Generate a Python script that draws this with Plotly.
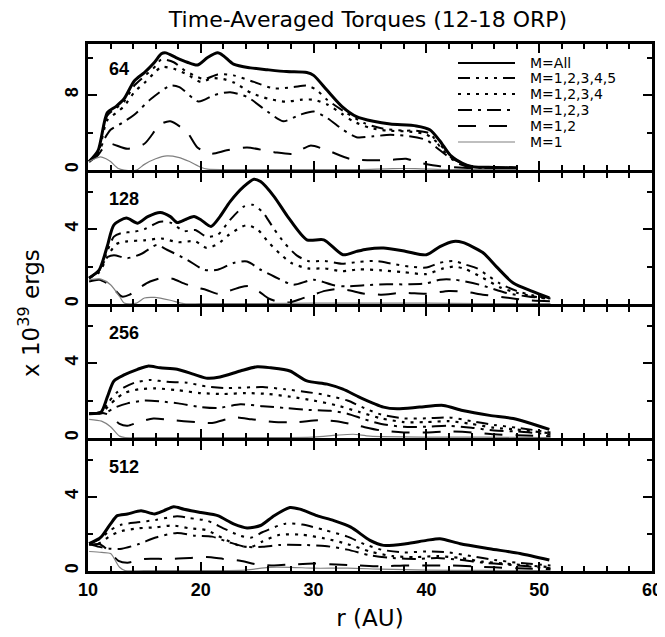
import plotly.graph_objects as go

# ---------------- data ----------------
PANEL_LABELS = ["64", "128", "256", "512"]
SERIES = ["M=All", "M=1,2,3,4,5", "M=1,2,3,4", "M=1,2,3", "M=1,2", "M=1"]
X_TICKS = [10, 20, 30, 40, 50, 60]

# panel 64
r64_all = [10.1, 10.9, 11.7, 12.5, 13.2, 14.1, 15.0, 15.9, 16.5, 16.9, 17.8, 18.8, 19.7, 20.6, 21.5, 22.0, 22.9, 24.4, 25.9, 27.6, 29.4, 30.0, 31.2, 32.5, 33.8, 35.3, 36.8, 39.1, 40.3, 41.2, 42.1, 43.2, 44.1, 46.0, 48.0]
v64_all = [0.9, 2.1, 6.1, 6.8, 7.6, 9.5, 10.4, 11.5, 12.4, 12.5, 12.0, 11.5, 11.2, 12.0, 12.5, 12.2, 11.3, 10.9, 10.7, 10.5, 10.4, 10.1, 8.5, 6.8, 5.7, 5.2, 4.9, 4.7, 4.3, 3.1, 1.6, 0.7, 0.35, 0.28, 0.24]
r64_m5 = [10.1, 10.9, 11.7, 12.5, 13.2, 14.1, 15.0, 16.0, 16.5, 17.6, 18.6, 19.4, 20.3, 21.5, 22.9, 24.7, 26.5, 28.2, 29.4, 30.2, 31.2, 32.9, 34.5, 36.2, 38.0, 39.1, 40.3, 41.2, 42.1, 43.0, 44.1, 46.0, 48.0]
v64_m5 = [0.9, 2.0, 5.8, 6.6, 7.3, 9.0, 10.0, 11.1, 11.8, 11.5, 10.6, 10.1, 9.7, 10.2, 10.1, 9.4, 8.7, 8.85, 9.0, 8.6, 7.5, 6.1, 5.0, 4.4, 4.2, 4.2, 3.9, 2.5, 1.4, 0.8, 0.35, 0.26, 0.22]
r64_m4 = [10.1, 10.9, 11.7, 12.5, 13.2, 14.1, 15.0, 16.0, 16.5, 17.6, 18.8, 20.0, 21.0, 22.0, 23.0, 24.5, 26.0, 27.5, 29.0, 30.0, 31.2, 32.5, 33.5, 35.0, 36.5, 38.5, 40.0, 41.2, 42.2, 43.0, 44.0, 46.0, 48.0]
v64_m4 = [0.9, 1.9, 5.3, 6.1, 6.8, 8.3, 9.3, 10.5, 11.0, 10.8, 10.2, 9.4, 9.8, 9.7, 9.3, 8.2, 7.6, 7.3, 7.5, 7.5, 7.0, 6.0, 5.2, 4.5, 4.2, 4.1, 3.8, 2.7, 1.5, 0.8, 0.35, 0.25, 0.2]
r64_m3 = [10.1, 10.9, 11.5, 12.0, 13.0, 14.1, 15.6, 17.3, 18.1, 19.8, 21.2, 22.6, 24.1, 25.9, 27.3, 28.8, 30.0, 31.2, 32.6, 33.8, 35.3, 36.8, 38.5, 40.0, 41.2, 42.2, 43.0, 44.0, 46.0, 48.0]
v64_m3 = [0.9, 1.8, 3.4, 4.3, 5.0, 5.9, 7.6, 9.0, 8.85, 7.3, 8.0, 8.3, 7.8, 6.25, 5.2, 5.9, 6.25, 5.55, 4.3, 3.5, 3.6, 3.75, 3.6, 3.2, 2.1, 1.2, 0.6, 0.3, 0.2, 0.15]
r64_m2 = [10.1, 10.9, 11.5, 12.0, 13.5, 15.0, 16.4, 17.3, 18.8, 19.7, 20.9, 22.3, 24.1, 26.5, 28.2, 29.7, 31.2, 33.2, 35.3, 37.0, 38.2, 39.3, 41.2, 44.0, 48.0]
v64_m2 = [0.9, 1.6, 2.6, 2.8, 2.26, 2.8, 4.86, 5.2, 4.0, 2.4, 1.74, 2.1, 2.4, 1.9, 1.74, 2.6, 2.1, 1.2, 1.04, 1.1, 1.2, 0.8, 0.4, 0.2, 0.15]
r64_m1 = [10.1, 10.6, 11.1, 11.6, 12.0, 12.7, 13.2, 14.3, 15.0, 16.0, 17.0, 18.0, 19.0, 20.0, 20.6, 22.0, 26.0, 30.0, 34.0, 37.0, 39.0, 42.0, 45.0, 48.0]
v64_m1 = [0.9, 1.2, 1.4, 1.2, 0.9, 0.15, 0.0, 0.0, 0.6, 1.2, 1.5, 1.35, 0.9, 0.3, 0.1, 0.05, 0.05, 0.05, 0.05, 0.15, 0.15, 0.05, 0.05, 0.05]

# panel 128
r128_all = [10.1, 11.0, 11.7, 12.3, 13.4, 14.4, 15.3, 16.4, 17.3, 17.9, 18.7, 19.4, 20.0, 20.9, 21.7, 22.6, 23.8, 24.7, 25.3, 26.5, 27.7, 29.4, 30.9, 32.6, 33.8, 34.7, 36.2, 38.2, 40.0, 41.2, 42.4, 43.2, 45.0, 46.2, 47.7, 49.4, 50.9]
v128_all = [1.39, 1.83, 3.07, 4.23, 4.59, 4.32, 4.67, 4.89, 4.67, 4.35, 4.53, 4.67, 4.5, 4.14, 4.67, 5.47, 6.27, 6.67, 6.54, 5.74, 4.67, 3.43, 3.43, 2.63, 2.81, 2.93, 2.99, 2.81, 2.63, 3.07, 3.34, 3.29, 2.75, 2.0, 1.12, 0.67, 0.32]
r128_m5 = [10.1, 11.0, 11.7, 12.3, 13.0, 14.0, 15.0, 16.4, 17.3, 18.5, 19.5, 20.5, 21.5, 22.6, 23.8, 24.6, 25.5, 26.5, 27.5, 28.5, 29.5, 31.0, 32.5, 34.0, 35.5, 37.0, 38.5, 40.0, 41.2, 42.4, 43.5, 44.5, 45.5, 46.5, 48.0, 49.5, 51.0]
v128_m5 = [1.39, 1.8, 2.8, 3.6, 3.8, 3.85, 4.0, 4.4, 4.35, 3.9, 3.95, 3.6, 3.7, 4.5, 5.2, 5.3, 4.9, 4.0, 3.2, 2.6, 2.3, 2.3, 2.15, 2.25, 2.3, 2.15, 2.0, 1.95, 2.2, 2.3, 2.1, 1.9, 1.5, 1.1, 0.7, 0.45, 0.3]
r128_m4 = [10.1, 11.0, 11.7, 12.5, 13.5, 15.0, 16.5, 18.0, 19.5, 20.5, 21.5, 22.5, 24.0, 25.0, 26.0, 27.0, 28.0, 29.5, 31.0, 32.5, 34.0, 36.0, 38.0, 40.0, 41.5, 42.5, 43.5, 45.0, 46.5, 48.0, 50.0, 51.0]
v128_m4 = [1.39, 1.7, 2.5, 3.2, 3.35, 3.4, 3.5, 3.3, 3.35, 3.0, 3.2, 3.7, 4.2, 4.0, 3.3, 2.7, 2.2, 1.9, 1.9, 1.75, 1.85, 1.8, 1.7, 1.6, 1.9, 2.0, 1.85, 1.4, 0.9, 0.6, 0.35, 0.3]
r128_m3 = [10.1, 11.0, 11.7, 12.3, 13.5, 14.8, 16.1, 17.0, 18.8, 20.3, 21.5, 22.9, 24.1, 25.3, 26.5, 28.2, 30.0, 31.8, 32.9, 34.5, 36.5, 38.5, 40.0, 41.2, 42.5, 44.7, 47.1, 49.0, 50.6]
v128_m3 = [1.39, 1.8, 2.5, 2.6, 2.45, 2.7, 3.16, 2.9, 2.36, 1.83, 1.83, 2.19, 2.27, 1.83, 1.47, 1.03, 1.3, 1.0, 0.94, 1.0, 1.05, 1.05, 1.1, 1.3, 1.3, 1.03, 0.59, 0.4, 0.3]
r128_m2 = [10.1, 11.0, 11.7, 12.3, 13.0, 13.7, 14.5, 15.5, 16.6, 17.5, 18.5, 19.5, 20.5, 21.5, 22.5, 23.5, 24.3, 25.2, 26.0, 27.0, 28.0, 29.0, 30.0, 31.0, 32.0, 33.0, 34.5, 36.0, 38.0, 40.0, 42.0, 43.5, 45.0, 47.0, 49.0, 51.0]
v128_m2 = [1.2, 1.3, 1.1, 0.8, 0.4, 0.5, 0.85, 1.2, 1.4, 1.35, 1.1, 0.9, 0.75, 0.55, 0.7, 0.9, 0.95, 0.65, 0.3, 0.1, 0.1, 0.3, 0.5, 0.7, 0.8, 0.75, 0.55, 0.5, 0.6, 0.55, 0.7, 0.65, 0.5, 0.35, 0.2, 0.15]
r128_m1 = [10.1, 11.15, 12.0, 12.8, 13.2, 14.3, 15.0, 15.9, 17.3, 18.5, 20.0, 25.0, 30.0, 35.0, 40.0, 45.0, 51.0]
v128_m1 = [1.3, 1.33, 1.03, 0.4, 0.05, 0.05, 0.32, 0.35, 0.2, 0.02, 0.02, 0.02, 0.05, 0.05, 0.05, 0.02, 0.02]

# panel 256
r256_all = [10.1, 11.15, 11.7, 12.3, 13.2, 14.4, 15.3, 16.4, 17.9, 19.4, 20.6, 21.7, 23.5, 25.0, 26.2, 27.9, 29.4, 31.2, 32.6, 34.1, 36.2, 37.4, 39.4, 41.5, 43.2, 45.6, 47.7, 50.9]
v256_all = [1.3, 1.38, 2.17, 3.05, 3.37, 3.67, 3.84, 3.75, 3.67, 3.4, 3.19, 3.26, 3.58, 3.81, 3.75, 3.58, 3.05, 2.88, 2.61, 2.17, 1.65, 1.56, 1.65, 1.74, 1.47, 1.21, 1.04, 0.46]
r256_m5 = [10.1, 11.2, 11.8, 12.5, 13.2, 14.1, 15.5, 17.0, 18.8, 20.5, 22.3, 24.0, 25.5, 27.5, 29.5, 31.0, 33.0, 34.5, 36.0, 38.0, 40.0, 42.0, 44.0, 46.0, 48.0, 51.0]
v256_m5 = [1.3, 1.4, 1.9, 2.4, 2.7, 2.95, 3.1, 3.0, 2.95, 2.75, 2.67, 2.7, 2.72, 2.6, 2.45, 2.3, 2.0, 1.6, 1.25, 1.05, 1.05, 1.1, 0.9, 0.7, 0.55, 0.3]
r256_m4 = [10.1, 11.2, 11.8, 12.5, 13.2, 14.5, 16.0, 18.0, 20.0, 22.0, 24.0, 26.0, 28.0, 30.0, 32.0, 34.0, 36.0, 38.0, 40.0, 42.0, 44.0, 46.0, 48.0, 51.0]
v256_m4 = [1.3, 1.35, 1.7, 2.1, 2.4, 2.6, 2.65, 2.55, 2.4, 2.35, 2.4, 2.35, 2.2, 2.0, 1.75, 1.4, 1.05, 0.85, 0.85, 0.9, 0.75, 0.55, 0.45, 0.25]
r256_m3 = [10.1, 11.0, 11.7, 12.5, 13.5, 15.0, 16.5, 18.0, 20.0, 21.5, 23.5, 25.5, 27.5, 29.5, 31.5, 33.0, 34.5, 36.0, 38.0, 40.0, 42.0, 44.0, 46.0, 48.0, 51.0]
v256_m3 = [1.3, 1.3, 1.4, 1.65, 1.85, 2.0, 1.95, 1.85, 1.65, 1.6, 1.8, 1.7, 1.6, 1.5, 1.45, 1.3, 1.0, 0.75, 0.6, 0.6, 0.65, 0.55, 0.4, 0.35, 0.2]
r256_m2 = [10.1, 11.2, 12.0, 12.8, 13.5, 14.5, 15.8, 17.5, 19.5, 21.0, 23.0, 24.5, 26.5, 28.5, 30.5, 32.0, 34.0, 36.0, 38.0, 40.0, 42.0, 44.0, 46.0, 48.0, 51.0]
v256_m2 = [1.3, 1.35, 1.2, 0.75, 0.65, 0.85, 1.04, 0.95, 0.85, 0.8, 1.1, 1.0, 0.85, 0.85, 0.95, 0.9, 0.65, 0.4, 0.3, 0.3, 0.35, 0.3, 0.2, 0.15, 0.1]
r256_m1 = [10.1, 11.2, 12.0, 12.8, 13.3, 15.0, 20.0, 25.0, 30.0, 32.0, 33.5, 35.0, 40.0, 45.0, 51.0]
v256_m1 = [1.0, 0.9, 0.6, 0.1, 0.02, 0.02, 0.02, 0.02, 0.05, 0.15, 0.2, 0.1, 0.05, 0.05, 0.02]

# panel 512
r512_all = [10.1, 11.15, 12.0, 12.6, 13.5, 14.7, 15.9, 16.7, 17.6, 18.5, 20.0, 21.5, 22.9, 24.1, 25.3, 26.5, 27.9, 28.8, 30.3, 31.8, 33.3, 35.0, 36.2, 38.2, 40.0, 41.2, 43.0, 45.6, 48.3, 50.9]
v512_all = [1.47, 1.82, 2.54, 2.98, 3.07, 3.24, 3.07, 3.24, 3.46, 3.33, 3.15, 2.98, 2.54, 2.32, 2.45, 2.98, 3.42, 3.33, 2.98, 2.71, 2.36, 1.65, 1.38, 1.47, 1.65, 1.74, 1.47, 1.2, 0.94, 0.59]
r512_m5 = [10.1, 11.0, 12.0, 13.0, 14.4, 16.0, 17.9, 19.0, 20.6, 22.0, 23.5, 24.5, 25.5, 27.5, 29.0, 31.0, 33.0, 34.5, 36.0, 38.0, 40.0, 42.0, 44.0, 46.0, 48.0, 51.0]
v512_m5 = [1.47, 1.7, 2.2, 2.5, 2.62, 2.75, 2.95, 2.85, 2.7, 2.3, 1.9, 1.8, 2.1, 2.55, 2.5, 2.2, 1.85, 1.45, 1.15, 1.0, 1.05, 1.0, 0.8, 0.6, 0.45, 0.3]
r512_m4 = [10.1, 11.0, 12.0, 13.0, 14.5, 16.0, 17.5, 19.0, 20.5, 22.0, 23.5, 24.5, 25.5, 27.0, 29.0, 31.0, 33.0, 35.0, 37.0, 39.0, 41.0, 43.0, 45.0, 47.0, 49.0, 51.0]
v512_m4 = [1.47, 1.5, 1.9, 2.15, 2.3, 2.35, 2.45, 2.3, 2.2, 1.75, 1.35, 1.3, 1.6, 1.95, 1.95, 1.75, 1.45, 1.05, 0.8, 0.75, 0.8, 0.7, 0.5, 0.4, 0.3, 0.2]
r512_m3 = [10.1, 11.0, 12.0, 13.0, 14.5, 16.0, 17.9, 19.5, 21.0, 22.5, 24.0, 25.5, 27.0, 29.0, 31.0, 33.0, 35.0, 37.0, 39.0, 41.0, 43.0, 45.0, 47.0, 49.0, 51.0]
v512_m3 = [1.47, 1.3, 1.2, 1.2, 1.45, 1.8, 2.05, 1.9, 1.85, 1.55, 1.3, 1.3, 1.4, 1.4, 1.35, 1.15, 0.85, 0.7, 0.65, 0.7, 0.6, 0.45, 0.35, 0.25, 0.15]
r512_m2 = [10.1, 11.0, 11.8, 12.7, 13.5, 15.0, 17.0, 19.0, 20.5, 22.0, 23.5, 25.0, 26.5, 28.0, 30.0, 32.0, 34.0, 36.0, 38.0, 40.0, 42.0, 44.0, 46.0, 48.0, 51.0]
v512_m2 = [1.4, 1.45, 1.1, 0.55, 0.45, 0.65, 0.65, 0.7, 0.75, 0.65, 0.55, 0.35, 0.3, 0.35, 0.4, 0.35, 0.3, 0.25, 0.3, 0.3, 0.3, 0.25, 0.2, 0.15, 0.1]
r512_m1 = [10.1, 11.2, 12.0, 12.8, 13.3, 15.0, 20.0, 24.0, 26.0, 28.0, 30.0, 33.0, 36.0, 40.0, 45.0, 51.0]
v512_m1 = [1.05, 1.0, 0.94, 0.2, 0.02, 0.02, 0.02, 0.05, 0.2, 0.2, 0.15, 0.15, 0.1, 0.05, 0.03, 0.02]

PANEL_DATA = [
    [(r64_all, v64_all), (r64_m5, v64_m5), (r64_m4, v64_m4), (r64_m3, v64_m3), (r64_m2, v64_m2), (r64_m1, v64_m1)],
    [(r128_all, v128_all), (r128_m5, v128_m5), (r128_m4, v128_m4), (r128_m3, v128_m3), (r128_m2, v128_m2), (r128_m1, v128_m1)],
    [(r256_all, v256_all), (r256_m5, v256_m5), (r256_m4, v256_m4), (r256_m3, v256_m3), (r256_m2, v256_m2), (r256_m1, v256_m1)],
    [(r512_all, v512_all), (r512_m5, v512_m5), (r512_m4, v512_m4), (r512_m3, v512_m3), (r512_m2, v512_m2), (r512_m1, v512_m1)],
]
Y_MAX = [13.5, 7.0, 7.0, 7.0]
Y_DTICK = [8, 4, 4, 4]

# ---------------- styles ----------------
LINE_STYLES = [
    dict(color="black", width=3, dash="solid"),
    dict(color="black", width=2, dash="12px,6px,3px,6px,3px,6px,3px,6px"),
    dict(color="black", width=2.2, dash="3px,6px"),
    dict(color="black", width=2, dash="14px,6px,3px,6px"),
    dict(color="black", width=2, dash="18px,13px"),
    dict(color="#808080", width=1.2, dash="solid"),
]
FONT = "Liberation Sans, Arial, sans-serif"
FONT2 = "DejaVu Sans, Verdana, sans-serif"

# The page body adds an 8px margin; the figure is sized so that it fills the window.
PAGE_OFF = 8
W, H = 665 - PAGE_OFF, 637 - PAGE_OFF
# targets below are in window pixels
PLOT_L, PLOT_R, PLOT_T, PLOT_B = 88, 652, 40, 571
M_L, M_R = PLOT_L - PAGE_OFF, W - (PLOT_R - PAGE_OFF)
M_T, M_B = PLOT_T - PAGE_OFF, H - (PLOT_B - PAGE_OFF)
PANEL_PX = [(43.5, 170), (173, 304), (307, 438), (441, 571)]
plot_h = H - M_T - M_B
plot_w = W - M_L - M_R

def py2paper(py):
    return (PLOT_B - py) / plot_h

def px2paper(px):
    return (px - PLOT_L) / plot_w

fig = go.Figure()
layout_axes = {}
for i in range(4):
    xn = "x" if i == 0 else f"x{i+1}"
    yn = "y" if i == 0 else f"y{i+1}"
    for (r, v), name, st in zip(PANEL_DATA[i], SERIES, LINE_STYLES):
        fig.add_trace(go.Scatter(
            x=r, y=v, mode="lines", name=name, showlegend=False,
            xaxis=xn, yaxis=yn,
            line=dict(color=st["color"], width=st["width"], dash=st["dash"],
                      shape="spline", smoothing=0.7),
            hoverinfo="skip",
        ))
    xa = dict(
        domain=[0, 1], range=[10, 60], anchor=yn, automargin=False,
        showline=True, linewidth=3, linecolor="black", mirror="allticks",
        ticks="inside", ticklen=9, tickwidth=2, tickcolor="black",
        tickmode="array", tickvals=X_TICKS, ticktext=[str(t) for t in X_TICKS],
        minor=dict(dtick=2, tick0=10, ticklen=5, tickwidth=2, ticks="inside", tickcolor="black", showgrid=False),
        showgrid=False, zeroline=False,
        showticklabels=(i == 3),
        tickfont=dict(family=FONT, size=18, color="black", weight="bold"),
    )
    if i > 0:
        xa["matches"] = "x"
    if i == 3:
        xa["title"] = dict(text="r (AU)", font=dict(family=FONT2, size=23, color="black"), standoff=12)
    top, bot = PANEL_PX[i]
    ya = dict(
        domain=[py2paper(bot), py2paper(top)], range=[0, Y_MAX[i]], anchor=xn, automargin=False,
        showline=True, linewidth=3, linecolor="black", mirror="allticks",
        ticks="inside", ticklen=9, tickwidth=2, tickcolor="black",
        dtick=Y_DTICK[i], tick0=0,
        minor=dict(dtick=Y_DTICK[i] / 2, tick0=0, ticklen=5, tickwidth=2, ticks="inside", tickcolor="black", showgrid=False),
        showgrid=False, zeroline=False, tickangle=-90,
        tickfont=dict(family=FONT, size=18, color="black", weight="bold"),
    )
    layout_axes["xaxis" if i == 0 else f"xaxis{i+1}"] = xa
    layout_axes["yaxis" if i == 0 else f"yaxis{i+1}"] = ya

annotations = []
for i, lab in enumerate(PANEL_LABELS):
    xr = "x" if i == 0 else f"x{i+1}"
    yr = "y" if i == 0 else f"y{i+1}"
    annotations.append(dict(
        text=lab, xref=f"{xr} domain", yref=f"{yr} domain", x=0.034, y=0.80,
        xanchor="left", yanchor="middle", showarrow=False,
        font=dict(family=FONT, size=18, color="black", weight="bold"),
    ))

# y-axis title
annotations.append(dict(
    text="x 10<sup>39</sup> ergs", xref="paper", yref="paper",
    x=px2paper(29), y=py2paper(313), textangle=-90,
    xanchor="center", yanchor="middle", showarrow=False,
    font=dict(family=FONT2, size=23, color="black"),
))

# legend (inside top panel)
LEG_X0, LEG_X1, LEG_TX = 458, 515, 528
LEG_ROWS = [63, 78, 94, 110, 126, 142]
shapes = []
for name, st, ry in zip(SERIES, LINE_STYLES, LEG_ROWS):
    shapes.append(dict(
        type="line", xref="paper", yref="paper",
        x0=px2paper(LEG_X0), x1=px2paper(LEG_X1), y0=py2paper(ry), y1=py2paper(ry),
        line=dict(color=st["color"], width=min(st["width"], 2.2), dash=st["dash"]),
    ))
    annotations.append(dict(
        text=name, xref="paper", yref="paper", x=px2paper(LEG_TX), y=py2paper(ry),
        xanchor="left", yanchor="middle", showarrow=False,
        font=dict(family=FONT2, size=14, color="black"),
    ))

fig.update_layout(
    width=W, height=H,
    margin=dict(l=M_L, r=M_R, t=M_T, b=M_B, autoexpand=False),
    paper_bgcolor="white", plot_bgcolor="white",
    showlegend=False,
    title=dict(text="Time-Averaged Torques (12-18 ORP)", x=(368 - PAGE_OFF) / W, xanchor="center",
               y=1 - (19 - PAGE_OFF) / H, yanchor="middle", yref="container",
               font=dict(family=FONT2, size=22, color="black")),
    annotations=annotations,
    shapes=shapes,
    **layout_axes,
)

fig.write_html("out.html")
